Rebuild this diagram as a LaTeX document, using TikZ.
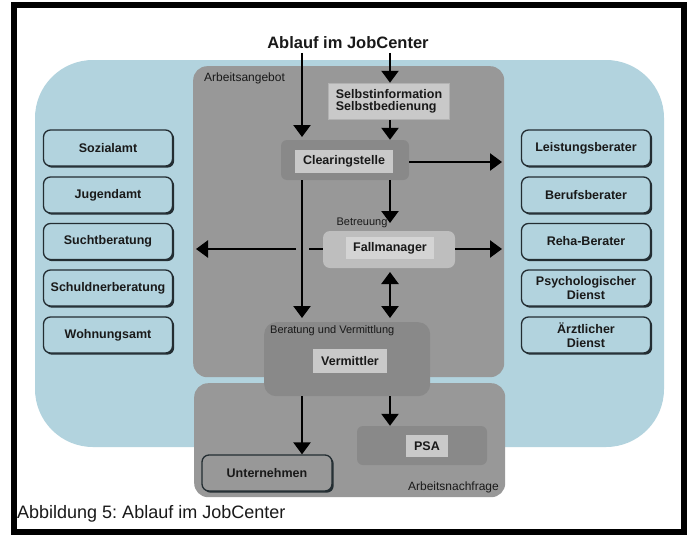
\documentclass[tikz,border=0pt]{standalone}
\usepackage{fontspec}
\setmainfont{Liberation Sans}
\usetikzlibrary{arrows.meta,shadows}
\definecolor{bgblue}{RGB}{178,211,222}
\definecolor{midgray}{RGB}{152,152,152}
\definecolor{darkgray2}{RGB}{137,137,137}
\definecolor{lightgray2}{RGB}{201,201,201}
\definecolor{fallgray}{RGB}{190,190,190}
\definecolor{selbstrim}{RGB}{178,178,178}
\definecolor{boxline}{RGB}{35,45,50}
\definecolor{txt}{RGB}{25,25,25}
\frenchspacing
\begin{document}
\begin{tikzpicture}[x=1pt,y=-1pt,
  sidebox/.style={draw=boxline, line width=1.3pt, rounded corners=7pt, fill=bgblue,
    minimum width=129pt, minimum height=36pt, inner sep=0pt, text=txt, align=center,
    font=\bfseries\fontsize{12.5}{14}\selectfont,
    general shadow={fill=boxline, shadow xshift=1.7pt, shadow yshift=-1.7pt}},
  container/.style={fill=midgray, rounded corners=14pt, inner sep=0pt, anchor=north west},
  outerbox/.style={rounded corners=6pt, inner sep=0pt},
  innerbox/.style={fill=lightgray2, inner sep=0pt, text=txt,
    font=\bfseries\fontsize{12.5}{14}\selectfont},
  lbl/.style={inner sep=0pt, text=txt},
  arr/.style={line width=2.4pt, -{Triangle[width=17pt,length=12pt]}},
  darr/.style={line width=2.4pt, {Triangle[width=17pt,length=12pt]}-{Triangle[width=17pt,length=12pt]}},
  plain/.style={line width=2.4pt}
]
\useasboundingbox (0,0) rectangle (687,535);
\fill[white] (0,0) rectangle (687,535);
\draw[line width=6pt, black] (14,5) rectangle (684,532);

% large areas
\fill[bgblue, rounded corners=58pt] (35,60) rectangle (664,447);
\node[container, minimum width=311pt, minimum height=311pt] (angebot) at (193,66) {};
\node[container, minimum width=311pt, minimum height=114pt] (nachfrage) at (194,383) {};
\node[fill=darkgray2, rounded corners=12pt, inner sep=0pt, anchor=north west,
      minimum width=166pt, minimum height=74pt] (beratung) at (264,322) {};

% titles and labels
\node[lbl, font=\bfseries\fontsize{16.5}{18}\selectfont] (title) at (348,43) {Ablauf im JobCenter};
\node[lbl, anchor=west, font=\fontsize{12}{14}\selectfont] (langebot) at (204,78) {Arbeitsangebot};
\node[lbl, anchor=east, font=\fontsize{12}{14}\selectfont] (lnachfrage) at (499,487) {Arbeitsnachfrage};
\node[lbl, anchor=west, font=\fontsize{11}{13}\selectfont] (lberatung) at (270,331) {Beratung und Vermittlung};
\node[lbl, font=\fontsize{11}{13}\selectfont] (lbetreuung) at (362,223) {Betreuung};
\node[lbl, anchor=west, font=\fontsize{18}{20}\selectfont] (caption) at (17,514) {Abbildung 5: Ablauf im JobCenter};

% central boxes
\node[fill=lightgray2, draw=selbstrim, line width=1.5pt, inner sep=0pt,
      minimum width=121pt, minimum height=36pt, align=left, text=txt,
      font=\bfseries\fontsize{12.5}{12.5}\selectfont] (selbst) at (389,101.5)
      {Selbstinformation\\Selbstbedienung};
\node[outerbox, fill=darkgray2, minimum width=128pt, minimum height=40pt] (clearo) at (345,160) {};
\node[innerbox, minimum width=98pt, minimum height=23pt] (clear) at (344,161) {Clearingstelle};
\node[outerbox, rounded corners=7pt, fill=fallgray, minimum width=132pt, minimum height=37pt] (fallo) at (389,249.5) {};
\node[innerbox, fill=lightgray2!80!white, minimum width=88pt, minimum height=22pt] (fall) at (390,248) {Fallmanager};
\node[innerbox, minimum width=74pt, minimum height=24pt] (verm) at (350,361) {Vermittler};
\node[outerbox, fill=darkgray2, minimum width=130pt, minimum height=39pt] (psao) at (422,445.5) {};
\node[innerbox, minimum width=42pt, minimum height=22pt] (psa) at (427,446) {PSA};
\node[sidebox, fill=midgray, minimum width=130pt] (untern) at (267,473) {Unternehmen};

% side boxes
\node[sidebox] (sozial) at (108,148) {Sozialamt};
\node[sidebox] (jugend) at (108,195) {Jugendamt};
\node[sidebox] (sucht) at (108,241.5) {Suchtberatung};
\node[sidebox] (schuld) at (108,288) {Schuldnerberatung};
\node[sidebox] (wohnung) at (108,335) {Wohnungsamt};
\node[sidebox] (leist) at (586,148) {Leistungsberater};
\node[sidebox] (beruf) at (586,195) {Berufsberater};
\node[sidebox] (reha) at (586,241.5) {Reha-Berater};
\node[sidebox] (psych) at (586,288) {Psychologischer\\Dienst};
\node[sidebox] (arzt) at (586,335) {Ärztlicher\\Dienst};

% connector coordinates
\coordinate (t1) at (302,53);
\coordinate (t2) at (390,53);
\coordinate (c1) at (302,137);
\coordinate (v1) at (302,318);
\coordinate (b1) at (390,223);
\coordinate (gapR) at (309,249);
\coordinate (gapL) at (296,249);
\coordinate (leftend) at (196,249);
\coordinate (rightend1) at (502,162);
\coordinate (rightend2) at (502,249);
\coordinate (d1) at (390,272);
\coordinate (d2) at (390,318);

% arrows
\draw[arr] (t1) -- (c1);
\draw[arr] (t2) -- (selbst.north -| t2);
\draw[arr] (selbst.south -| t2) -- (clearo.north -| t2);
\draw[arr] (clearo.east |- rightend1) -- (rightend1);
\draw[arr] (clearo.south -| b1) -- (b1);
\draw[arr] (clearo.south -| v1) -- (v1);
\draw[plain] (fallo.west |- gapR) -- (gapR);
\draw[arr] (gapL) -- (leftend);
\draw[arr] (fallo.east |- rightend2) -- (rightend2);
\draw[darr] (d1) -- (d2);
\draw[arr] (beratung.south -| t1) -- (untern.north -| t1);
\draw[arr] (beratung.south -| t2) -- (psao.north -| t2);
\end{tikzpicture}
\end{document}
